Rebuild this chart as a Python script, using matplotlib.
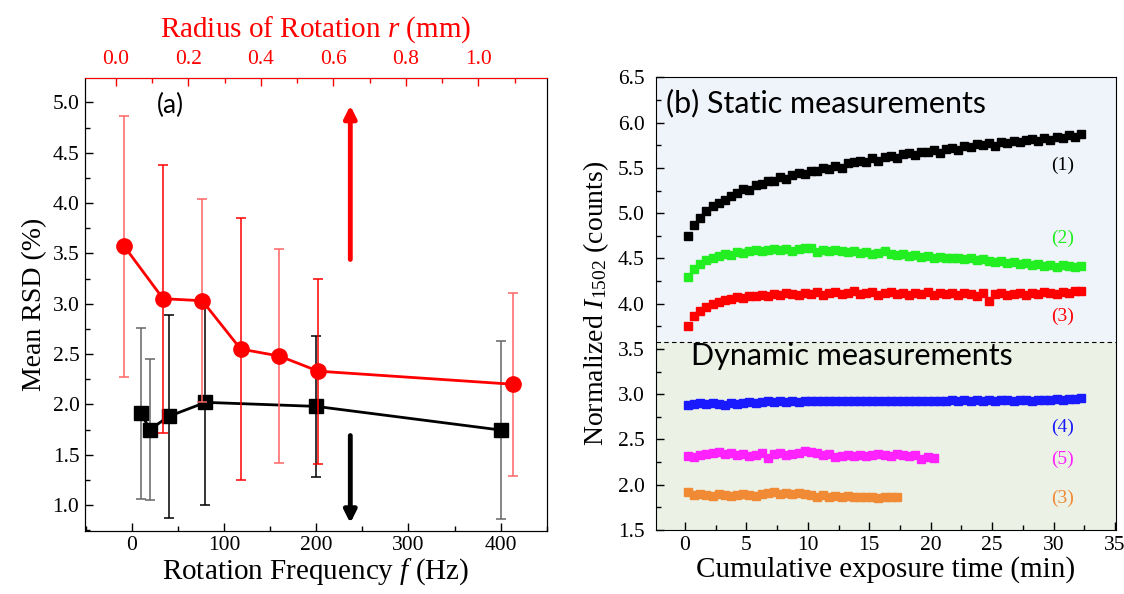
import matplotlib
matplotlib.use("Agg")
import matplotlib.pyplot as plt
from matplotlib.ticker import MultipleLocator, FormatStrFormatter

plt.rcParams['font.family'] = ['Liberation Serif', 'DejaVu Serif']
plt.rcParams['mathtext.fontset'] = 'custom'
plt.rcParams['mathtext.rm'] = 'Liberation Serif'
plt.rcParams['mathtext.it'] = 'Liberation Serif:italic'

SANS = ['Lato', 'DejaVu Sans']

# ---------------- Panel (a) data ----------------
freq_hz = [10, 20, 40, 80, 200, 400]
rsd_freq = [1.91, 1.75, 1.88, 2.02, 1.98, 1.745]
rsd_freq_err = [0.85, 0.70, 1.01, 1.02, 0.70, 0.88]
freq_err_colors = ['#666666', '#666666', '#000000', '#000000', '#000000', '#666666']

radius_mm = [0.023, 0.130, 0.238, 0.344, 0.451, 0.558, 1.095]
rsd_radius = [3.57, 3.05, 3.03, 2.55, 2.48, 2.33, 2.20]
rsd_radius_err = [1.30, 1.33, 1.01, 1.30, 1.065, 0.92, 0.91]
radius_err_colors = ['#ff6666', '#ff0000', '#ff6666', '#ff0000', '#ff6666', '#ff0000', '#ff6666']

# ---------------- Panel (b) data ----------------
t_full = [0.25, 0.75, 1.25, 1.75, 2.25, 2.75, 3.25, 3.75, 4.25, 4.75,
          5.25, 5.75, 6.25, 6.75, 7.25, 7.75, 8.25, 8.75, 9.25, 9.75,
          10.25, 10.75, 11.25, 11.75, 12.25, 12.75, 13.25, 13.75, 14.25, 14.75,
          15.25, 15.75, 16.25, 16.75, 17.25, 17.75, 18.25, 18.75, 19.25, 19.75,
          20.25, 20.75, 21.25, 21.75, 22.25, 22.75, 23.25, 23.75, 24.25, 24.75,
          25.25, 25.75, 26.25, 26.75, 27.25, 27.75, 28.25, 28.75, 29.25, 29.75,
          30.25, 30.75, 31.25, 31.75, 32.25]
t_s5 = [0.25, 0.75, 1.25, 1.75, 2.25, 2.75, 3.25, 3.75, 4.25, 4.75,
        5.25, 5.75, 6.25, 6.75, 7.25, 7.75, 8.25, 8.75, 9.25, 9.75,
        10.25, 10.75, 11.25, 11.75, 12.25, 12.75, 13.25, 13.75, 14.25, 14.75,
        15.25, 15.75, 16.25, 16.75, 17.25, 17.75, 18.25, 18.75, 19.25, 19.75,
        20.25]
t_s6 = [0.25, 0.75, 1.25, 1.75, 2.25, 2.75, 3.25, 3.75, 4.25, 4.75,
        5.25, 5.75, 6.25, 6.75, 7.25, 7.75, 8.25, 8.75, 9.25, 9.75,
        10.25, 10.75, 11.25, 11.75, 12.25, 12.75, 13.25, 13.75, 14.25, 14.75,
        15.25, 15.75, 16.25, 16.75, 17.25]

s1 = [4.75, 4.87, 4.95, 5.02, 5.08, 5.11, 5.15, 5.19, 5.22, 5.27,
      5.26, 5.31, 5.32, 5.35, 5.36, 5.40, 5.38, 5.42, 5.44, 5.43,
      5.47, 5.46, 5.50, 5.49, 5.52, 5.50, 5.55, 5.56, 5.58, 5.57,
      5.61, 5.58, 5.62, 5.63, 5.61, 5.65, 5.66, 5.64, 5.68, 5.67,
      5.70, 5.66, 5.71, 5.72, 5.70, 5.74, 5.73, 5.76, 5.75, 5.77,
      5.74, 5.79, 5.78, 5.80, 5.79, 5.81, 5.82, 5.80, 5.83, 5.81,
      5.84, 5.83, 5.86, 5.84, 5.87]
s2 = [4.29, 4.38, 4.44, 4.48, 4.50, 4.53, 4.55, 4.54, 4.57, 4.56,
      4.58, 4.59, 4.58, 4.59, 4.60, 4.59, 4.60, 4.58, 4.60, 4.61,
      4.62, 4.57, 4.59, 4.58, 4.59, 4.58, 4.57, 4.58, 4.56, 4.57,
      4.55, 4.56, 4.58, 4.55, 4.54, 4.55, 4.53, 4.54, 4.52, 4.53,
      4.51, 4.52, 4.50, 4.51, 4.50, 4.49, 4.50, 4.48, 4.49, 4.47,
      4.46, 4.47, 4.45, 4.46, 4.44, 4.45, 4.43, 4.44, 4.42, 4.43,
      4.41, 4.43, 4.42, 4.41, 4.42]
s3 = [3.75, 3.86, 3.92, 3.96, 4.00, 4.02, 4.04, 4.05, 4.07, 4.06,
      4.09, 4.08, 4.10, 4.09, 4.11, 4.10, 4.12, 4.11, 4.10, 4.12,
      4.11, 4.13, 4.10, 4.12, 4.13, 4.11, 4.12, 4.14, 4.11, 4.12,
      4.13, 4.10, 4.12, 4.13, 4.11, 4.12, 4.10, 4.12, 4.11, 4.13,
      4.10, 4.12, 4.11, 4.12, 4.10, 4.12, 4.11, 4.09, 4.12, 4.03,
      4.11, 4.12, 4.10, 4.11, 4.12, 4.10, 4.12, 4.11, 4.13, 4.12,
      4.11, 4.13, 4.12, 4.14, 4.14]
s4 = [2.88, 2.89, 2.90, 2.89, 2.90, 2.89, 2.88, 2.90, 2.89, 2.90,
      2.91, 2.90, 2.91, 2.92, 2.91, 2.92, 2.91, 2.92, 2.91, 2.92,
      2.93, 2.92, 2.92, 2.93, 2.92, 2.92, 2.93, 2.92, 2.93, 2.93,
      2.92, 2.93, 2.93, 2.92, 2.93, 2.92, 2.93, 2.92, 2.93, 2.93,
      2.92, 2.93, 2.93, 2.94, 2.93, 2.94, 2.93, 2.94, 2.93, 2.94,
      2.93, 2.94, 2.94, 2.93, 2.94, 2.94, 2.93, 2.94, 2.94, 2.94,
      2.95, 2.94, 2.95, 2.95, 2.96]
s5 = [2.32, 2.31, 2.33, 2.34, 2.35, 2.36, 2.34, 2.35, 2.33, 2.34,
      2.32, 2.33, 2.35, 2.30, 2.34, 2.35, 2.33, 2.34, 2.35, 2.37,
      2.36, 2.35, 2.33, 2.34, 2.31, 2.32, 2.33, 2.32, 2.33, 2.32,
      2.33, 2.34, 2.33, 2.32, 2.34, 2.33, 2.32, 2.33, 2.28, 2.31,
      2.30]
s6 = [1.92, 1.89, 1.90, 1.89, 1.88, 1.90, 1.89, 1.88, 1.89, 1.90,
      1.89, 1.88, 1.90, 1.91, 1.92, 1.90, 1.91, 1.90, 1.91, 1.90,
      1.89, 1.86, 1.89, 1.87, 1.88, 1.87, 1.88, 1.86, 1.87, 1.86,
      1.87, 1.85, 1.87, 1.86, 1.87]

series_labels = ['(1)', '(2)', '(3)', '(4)', '(5)', '(3)']
series_colors = ['#000000', '#22ee22', '#ff0000', '#1a1aff', '#ff22ff', '#f08a35']
label_y = [5.53, 4.72, 3.86, 2.63, 2.28, 1.85]
divider_y = 3.58

TICK_FS = 15.5
XLAB_FS = 21
YLAB_FS = 20

fig = plt.figure(figsize=(11.24, 5.94), dpi=100)


def style_ticks(a, axis='both', pad=4):
    a.tick_params(axis=axis, which='both', direction='in', labelsize=TICK_FS, pad=pad)
    a.tick_params(axis=axis, which='major', length=6, width=1)
    a.tick_params(axis=axis, which='minor', length=3.5, width=1)


# ================= Panel (a) =================
ax = fig.add_axes([0.0756, 0.1066, 0.4113, 0.7616])
ax.set_xlim(-50.6, 450.5)
ax.set_ylim(0.745, 5.24)

for xi, yi, ei, ci in zip(freq_hz, rsd_freq, rsd_freq_err, freq_err_colors):
    ax.errorbar([xi], [yi], yerr=[ei], fmt='none', ecolor=ci, elinewidth=1.1,
                capsize=3.5, capthick=1.1, zorder=2)
ax.plot(freq_hz, rsd_freq, '-', color='black', lw=2, marker='s', ms=9.5,
        mfc='black', mec='black', zorder=4)

ax.annotate('', xy=(237, 4.97), xytext=(237, 3.44),
            arrowprops=dict(arrowstyle='-|>', lw=3.5, color='#ff0000',
                            mutation_scale=18, shrinkA=0, shrinkB=0))
ax.annotate('', xy=(237, 0.82), xytext=(237, 1.69),
            arrowprops=dict(arrowstyle='-|>', lw=3.5, color='black',
                            mutation_scale=18, shrinkA=0, shrinkB=0))
ax.text(42, 4.97, '(a)', fontsize=19, family=SANS, ha='center', va='center')

ax.xaxis.set_major_locator(MultipleLocator(100))
ax.xaxis.set_minor_locator(MultipleLocator(50))
ax.yaxis.set_major_locator(MultipleLocator(0.5))
ax.yaxis.set_minor_locator(MultipleLocator(0.25))
ax.yaxis.set_major_formatter(FormatStrFormatter('%.1f'))
ax.tick_params(top=False, right=False)
style_ticks(ax)
ax.set_xlabel('Rotation Frequency $\\mathit{f}$ (Hz)', fontsize=XLAB_FS, labelpad=1)
ax.set_ylabel('Mean RSD (%)', fontsize=YLAB_FS, labelpad=4)

ax2 = ax.twiny()
ax2.set_xlim(-0.0855, 1.19)
for xi, yi, ei, ci in zip(radius_mm, rsd_radius, rsd_radius_err, radius_err_colors):
    ax2.errorbar([xi], [yi], yerr=[ei], fmt='none', ecolor=ci, elinewidth=1.1,
                 capsize=3.5, capthick=1.1, zorder=2)
ax2.plot(radius_mm, rsd_radius, '-', color='#ff0000', lw=2, marker='o', ms=11,
         mfc='#ff0000', mec='#ff0000', zorder=4)
ax2.xaxis.set_major_locator(MultipleLocator(0.2))
ax2.xaxis.set_minor_locator(MultipleLocator(0.1))
ax2.xaxis.set_major_formatter(FormatStrFormatter('%.1f'))
style_ticks(ax2, axis='x', pad=7)
ax2.tick_params(axis='x', which='both', colors='#ff0000')
ax2.spines['top'].set_color('#ff0000')
ax2.set_xlabel('Radius of Rotation $\\mathit{r}$ (mm)', fontsize=XLAB_FS,
               color='#ff0000', labelpad=9)

# ================= Panel (b) =================
bx = fig.add_axes([0.5834, 0.1077, 0.4091, 0.7621])
bx.set_xlim(-2.38, 35.05)
bx.set_ylim(1.5, 6.5)
bx.axhspan(divider_y, 6.5, color='#eff3fa', zorder=0, lw=0)
bx.axhspan(1.5, divider_y, color='#ebf1e5', zorder=0, lw=0)
bx.axhline(divider_y, color='black', lw=0.8, ls=(0, (4, 3)), zorder=1)

all_t = [t_full, t_full, t_full, t_full, t_s5, t_s6]
all_s = [s1, s2, s3, s4, s5, s6]
for tt, ss, cc in zip(all_t, all_s, series_colors):
    bx.plot(tt, ss, ls='none', marker='s', ms=5.5, mfc=cc, mec=cc, zorder=3)
for lab, ly, cc in zip(series_labels, label_y, series_colors):
    bx.text(30.7, ly, lab, color=cc, fontsize=14, ha='center', va='center')

bx.text(-1.57, 6.22, '(b) Static measurements', fontsize=22,
        family=SANS, ha='left', va='center')
bx.text(0.5, 3.42, 'Dynamic measurements', fontsize=22,
        family=SANS, ha='left', va='center')

bx.xaxis.set_major_locator(MultipleLocator(5))
bx.xaxis.set_minor_locator(MultipleLocator(2.5))
bx.yaxis.set_major_locator(MultipleLocator(0.5))
bx.yaxis.set_minor_locator(MultipleLocator(0.25))
bx.yaxis.set_major_formatter(FormatStrFormatter('%.1f'))
bx.tick_params(top=False, right=False)
style_ticks(bx, axis='x', pad=4)
style_ticks(bx, axis='y', pad=8)
bx.set_xlabel('Cumulative exposure time (min)', fontsize=XLAB_FS, labelpad=1)
bx.set_ylabel('Normalized $\\mathit{I}_{1502}$ (counts)', fontsize=YLAB_FS, labelpad=5)

fig.savefig('out.png', dpi=100)
